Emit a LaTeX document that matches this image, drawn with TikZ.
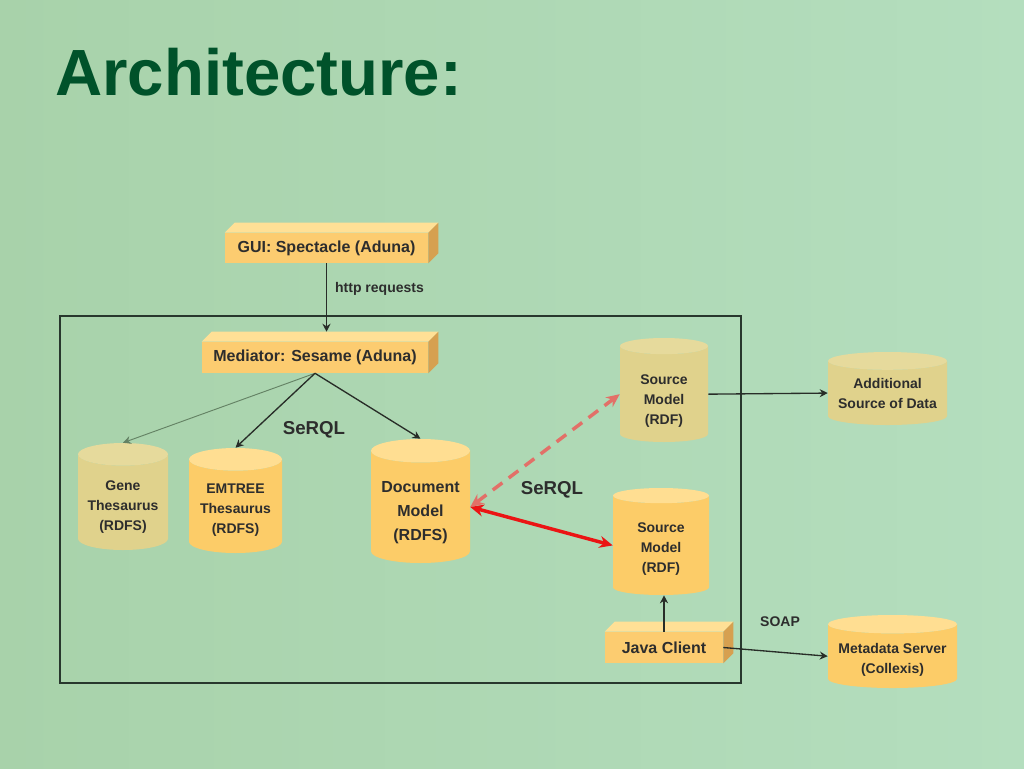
\documentclass[tikz,border=0pt]{standalone}
\usepackage{fontspec}
\setmainfont{Liberation Sans}
\usepackage{tikz}
\usetikzlibrary{arrows.meta,shapes.geometric}
\definecolor{bgleft}{RGB}{168,210,170}
\definecolor{bgright}{RGB}{180,222,190}
\definecolor{titlegreen}{RGB}{0,82,42}
\definecolor{txt}{RGB}{45,45,45}
\definecolor{boxfront}{RGB}{252,204,112}
\definecolor{boxtop}{RGB}{255,224,150}
\definecolor{boxside}{RGB}{214,160,80}
\definecolor{dbbody}{RGB}{252,204,104}
\definecolor{dbtop}{RGB}{255,222,146}
\definecolor{fadebody}{RGB}{224,210,140}
\definecolor{fadetop}{RGB}{230,218,156}
\definecolor{linkred}{RGB}{235,20,20}
\definecolor{linkpink}{RGB}{226,112,104}
\definecolor{framegray}{RGB}{40,55,45}
\definecolor{linkgray}{RGB}{40,45,40}
\definecolor{linkfade}{RGB}{100,130,100}
\tikzset{
  slab/.style = {rectangle, fill=boxfront, inner sep=0pt, text=txt,
    font=\bfseries\fontsize{12}{14}\selectfont},% 3d box, front face
  db/.style = {cylinder, shape border rotate=90, aspect=0.32,
    cylinder uses custom fill, cylinder body fill=dbbody,
    cylinder end fill=dbtop, inner sep=0pt, align=center, text=txt,
    anchor=shape center, font=\bfseries\fontsize{10.5}{15}\selectfont},% data store
  db_f/.style = {db, cylinder body fill=fadebody, cylinder end fill=fadetop},% faded store
  db_drop/.style = {execute at begin node={\rule{0pt}{#1}}},% pushes text below the lid
  tag/.style = {inner sep=0pt, text=txt, font=\bfseries\fontsize{10.5}{12}\selectfont},
  tag_l/.style = {tag, font=\bfseries\fontsize{14}{16}\selectfont},
}

\begin{document}
\begin{tikzpicture}[x=0.75pt,y=-0.75pt,>={Stealth[length=6pt,width=6pt]},
  link/.style={->, linkgray, line width=1pt},
  redlink/.style={{Stealth[length=10pt,width=9pt]}-{Stealth[length=10pt,width=9pt]}, linkred, line width=2.6pt}]

  \useasboundingbox (0,0) rectangle (1024,768);
  \shade[left color=bgleft, right color=bgright] (0,0) rectangle (1024,768);

  \node[anchor=base west, inner sep=0pt, text=titlegreen,
    font=\bfseries\fontsize{49}{58}\selectfont] (title) at (55,95) {Architecture:};

  % enclosing frame
  \draw[framegray, line width=0.9pt] (60,316) rectangle (741,683);

  \node[slab, minimum width=152.25pt, minimum height=22.5pt] (gui) at (326.5,248) {GUI: Spectacle (Aduna)};
  \node[slab, minimum width=169.5pt, minimum height=23.25pt] (med) at (315,357.5) {Mediator: Sesame (Aduna)};
  \node[slab, minimum width=88.5pt, minimum height=23.25pt] (java) at (664,647.5) {Java Client};
  \foreach \b in {gui,med,java}{
    \fill[boxtop] (\b.north west) -- ++(10,-10) -- ([shift={(10,-10)}]\b.north east) -- (\b.north east) -- cycle;
    \fill[boxside] (\b.north east) -- ([shift={(10,-10)}]\b.north east) -- ([shift={(10,-10)}]\b.south east) -- (\b.south east) -- cycle;
  }

  \node[db_f, minimum width=67.5pt, minimum height=80.25pt, db_drop=44pt] (gene) at (123,496.5) {Gene\\Thesaurus\\(RDFS)};
  \node[db, minimum width=69.75pt, minimum height=78.75pt, db_drop=42.5pt] (emtree) at (235.5,500.5) {EMTREE\\Thesaurus\\(RDFS)};
  \node[db, minimum width=74.25pt, minimum height=93pt, aspect=0.3, db_drop=52.2pt,
    font=\bfseries\fontsize{12}{18}\selectfont] (doc) at (420.5,501) {Document\\Model\\(RDFS)};
  \node[db_f, minimum width=66pt, minimum height=78pt, aspect=0.34, db_drop=47pt] (srcA) at (664,390) {Source\\Model\\(RDF)};
  \node[db, minimum width=72pt, minimum height=80.25pt, db_drop=43.5pt] (srcB) at (661,541.5) {Source\\Model\\(RDF)};
  \node[db_f, minimum width=89.25pt, minimum height=54.75pt, aspect=0.18] (addl) at (887.5,388.5) {Additional\\Source of Data};
  \node[db, minimum width=96.75pt, minimum height=54.75pt, aspect=0.17, db_drop=27.9pt] (meta) at (892.5,651.5) {Metadata Server\\(Collexis)};

  \node[tag_l] (serqlA) at (314,430) {SeRQL};
  \node[tag_l] (serqlB) at (552,490) {SeRQL};
  \node[tag] (soap) at (780,622) {SOAP};

  \coordinate (medtop) at ([yshift=7.5pt]med.north);
  \draw[link] (gui.south) -- (gui.south |- medtop)
    node[tag, pos=0.38, right=6pt] (http) {http requests};
  \draw[link, linkfade, line width=0.7pt] (med.south) -- (gene.north);
  \draw[link] (med.south) -- (emtree.north);
  \draw[link] (med.south) -- (doc.north);
  \draw[link] (srcA.east) -- (addl.west);
  \draw[link] (java.north) -- (java.north |- srcB.south);
  \draw[link] (java.east) -- (meta.west);
  \draw[redlink, linkpink, dash pattern=on 9pt off 6pt] (doc.east) -- (srcA.west);
  \draw[redlink] (doc.east) -- (srcB.west);
\end{tikzpicture}
\end{document}
